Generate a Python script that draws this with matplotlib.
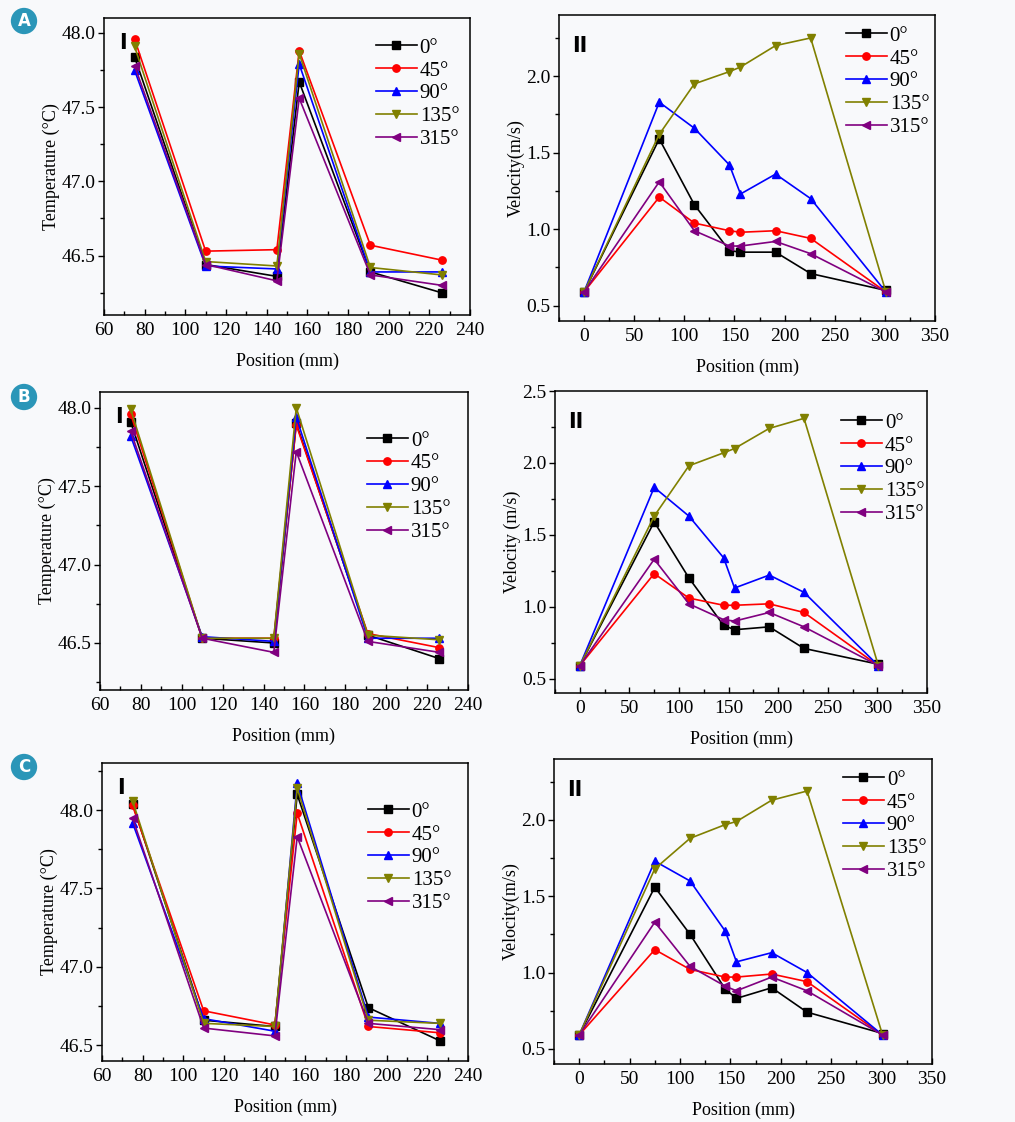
import numpy as np
import matplotlib
matplotlib.use("Agg")
import matplotlib.pyplot as plt
from matplotlib.ticker import MultipleLocator, AutoMinorLocator, FormatStrFormatter

plt.rcParams['font.family'] = ['Liberation Serif', 'DejaVu Serif']

angles = ['0°', '45°', '90°', '135°', '315°']
colors = ['#000000', '#ff0000', '#0000ff', '#808000', '#800080']
markers = ['s', 'o', '^', 'v', '<']

pos_T = [75, 110, 145, 156, 191, 226]
pos_V = [0, 75, 110, 145, 156, 191, 226, 301]

# panel A
temp_A = [
    [47.84, 46.44, 46.36, 47.67, 46.39, 46.25],
    [47.96, 46.53, 46.54, 47.88, 46.57, 46.47],
    [47.75, 46.43, 46.41, 47.79, 46.39, 46.39],
    [47.91, 46.46, 46.43, 47.86, 46.42, 46.37],
    [47.78, 46.44, 46.33, 47.56, 46.37, 46.30],
]
vel_A = [
    [0.59, 1.59, 1.16, 0.86, 0.85, 0.85, 0.71, 0.60],
    [0.59, 1.21, 1.04, 0.99, 0.98, 0.99, 0.94, 0.59],
    [0.59, 1.83, 1.66, 1.42, 1.23, 1.36, 1.20, 0.59],
    [0.59, 1.62, 1.95, 2.03, 2.06, 2.20, 2.25, 0.59],
    [0.59, 1.31, 0.99, 0.89, 0.89, 0.92, 0.84, 0.59],
]
# panel B
temp_B = [
    [47.91, 46.53, 46.50, 47.90, 46.55, 46.40],
    [47.96, 46.53, 46.53, 47.89, 46.56, 46.47],
    [47.82, 46.54, 46.51, 47.94, 46.53, 46.53],
    [47.99, 46.53, 46.53, 48.00, 46.55, 46.52],
    [47.85, 46.53, 46.44, 47.72, 46.51, 46.44],
]
vel_B = [
    [0.59, 1.59, 1.20, 0.87, 0.84, 0.86, 0.71, 0.60],
    [0.59, 1.23, 1.06, 1.01, 1.01, 1.02, 0.96, 0.59],
    [0.59, 1.83, 1.63, 1.34, 1.13, 1.22, 1.10, 0.59],
    [0.59, 1.63, 1.98, 2.07, 2.10, 2.24, 2.31, 0.59],
    [0.59, 1.33, 1.02, 0.91, 0.90, 0.96, 0.86, 0.59],
]
# panel C
temp_C = [
    [48.04, 46.66, 46.62, 48.10, 46.74, 46.53],
    [48.03, 46.72, 46.63, 47.98, 46.62, 46.58],
    [47.92, 46.67, 46.59, 48.17, 46.68, 46.64],
    [48.06, 46.64, 46.62, 48.14, 46.66, 46.64],
    [47.95, 46.61, 46.56, 47.83, 46.64, 46.60],
]
vel_C = [
    [0.59, 1.56, 1.25, 0.89, 0.83, 0.90, 0.74, 0.60],
    [0.59, 1.15, 1.02, 0.97, 0.97, 0.99, 0.94, 0.59],
    [0.59, 1.73, 1.60, 1.27, 1.07, 1.13, 1.00, 0.59],
    [0.59, 1.68, 1.88, 1.97, 1.99, 2.13, 2.19, 0.59],
    [0.59, 1.33, 1.04, 0.91, 0.88, 0.97, 0.88, 0.59],
]

W, H = 1015, 1122
BG = '#f8f9fb'
fig = plt.figure(figsize=(W / 100, H / 100), dpi=100)
fig.patch.set_facecolor(BG)


def add_ax(l, t, r, b):
    return fig.add_axes([l / W, 1 - b / H, (r - l) / W, (b - t) / H])


def style(ax, xmajor, ylim, leg_xy):
    ax.set_facecolor(BG)
    ax.xaxis.set_major_locator(MultipleLocator(xmajor))
    ax.xaxis.set_minor_locator(AutoMinorLocator(2))
    ax.yaxis.set_major_locator(MultipleLocator(0.5))
    ax.yaxis.set_minor_locator(AutoMinorLocator(2))
    ax.yaxis.set_major_formatter(FormatStrFormatter('%.1f'))
    ax.set_ylim(*ylim)
    ax.tick_params(axis='x', which='both', direction='in', labelsize=14, pad=5)
    ax.tick_params(axis='y', which='both', direction='out', labelsize=14, pad=2)
    ax.tick_params(which='major', length=4, width=1)
    ax.tick_params(which='minor', length=3, width=1)
    for s in ax.spines.values():
        s.set_linewidth(1.1)
    ax.set_xlabel('Position (mm)', fontsize=13, labelpad=10)
    ax.legend(loc='upper left', frameon=False, fontsize=15,
              handlelength=1.95, handletextpad=0.15, labelspacing=0.16,
              borderpad=0, borderaxespad=0,
              bbox_to_anchor=(leg_xy[0] / W, 1 - leg_xy[1] / H),
              bbox_transform=fig.transFigure)


def draw_temp(ax, data, ylim, leg_xy):
    for vals, lab, c, m in zip(data, angles, colors, markers):
        ax.plot(pos_T, vals, color=c, marker=m, markersize=5.3, lw=1.2, label=lab)
    ax.set_xlim(60, 240)
    style(ax, 20, ylim, leg_xy)
    ax.set_ylabel('Temperature (°C)', fontsize=13, labelpad=1)
    ax.text(0.04, 0.95, 'I', transform=ax.transAxes, fontsize=15,
            fontweight='bold', family='DejaVu Sans', va='top')


def draw_vel(ax, data, ylim, ylabel, leg_xy):
    for vals, lab, c, m in zip(data, angles, colors, markers):
        ax.plot(pos_V, vals, color=c, marker=m, markersize=5.3, lw=1.2, label=lab)
    ax.set_xlim(-25, 350)
    style(ax, 50, ylim, leg_xy)
    ax.set_ylabel(ylabel, fontsize=13, labelpad=1)
    ax.text(0.035, 0.93, 'II', transform=ax.transAxes, fontsize=15,
            fontweight='bold', family='DejaVu Sans', va='top')


axA1 = add_ax(104, 18, 470, 315)
draw_temp(axA1, temp_A, (46.1, 48.1), (376, 38))
axA2 = add_ax(559, 15, 935, 321)
draw_vel(axA2, vel_A, (0.4, 2.4), 'Velocity(m/s)', (846, 26))

axB1 = add_ax(100, 392, 468, 690)
draw_temp(axB1, temp_B, (46.2, 48.1), (367, 431))
axB2 = add_ax(555, 391, 927, 693)
draw_vel(axB2, vel_B, (0.4, 2.5), 'Velocity (m/s)', (841, 413))

axC1 = add_ax(102, 763, 468, 1061)
draw_temp(axC1, temp_C, (46.4, 48.3), (368, 802))
axC2 = add_ax(554, 759, 932, 1064)
draw_vel(axC2, vel_C, (0.4, 2.4), 'Velocity(m/s)', (843, 770))

# panel letters in teal circles
for letter, yp in zip(['A', 'B', 'C'], [21, 397, 767]):
    fig.text(24 / W, 1 - yp / H, letter, ha='center', va='center', color='white',
             fontsize=12, fontweight='bold', family='DejaVu Sans',
             bbox=dict(boxstyle='circle,pad=0.25', fc='#2b96b8', ec='none'))

fig.savefig('out.png', dpi=100, facecolor=fig.get_facecolor())
